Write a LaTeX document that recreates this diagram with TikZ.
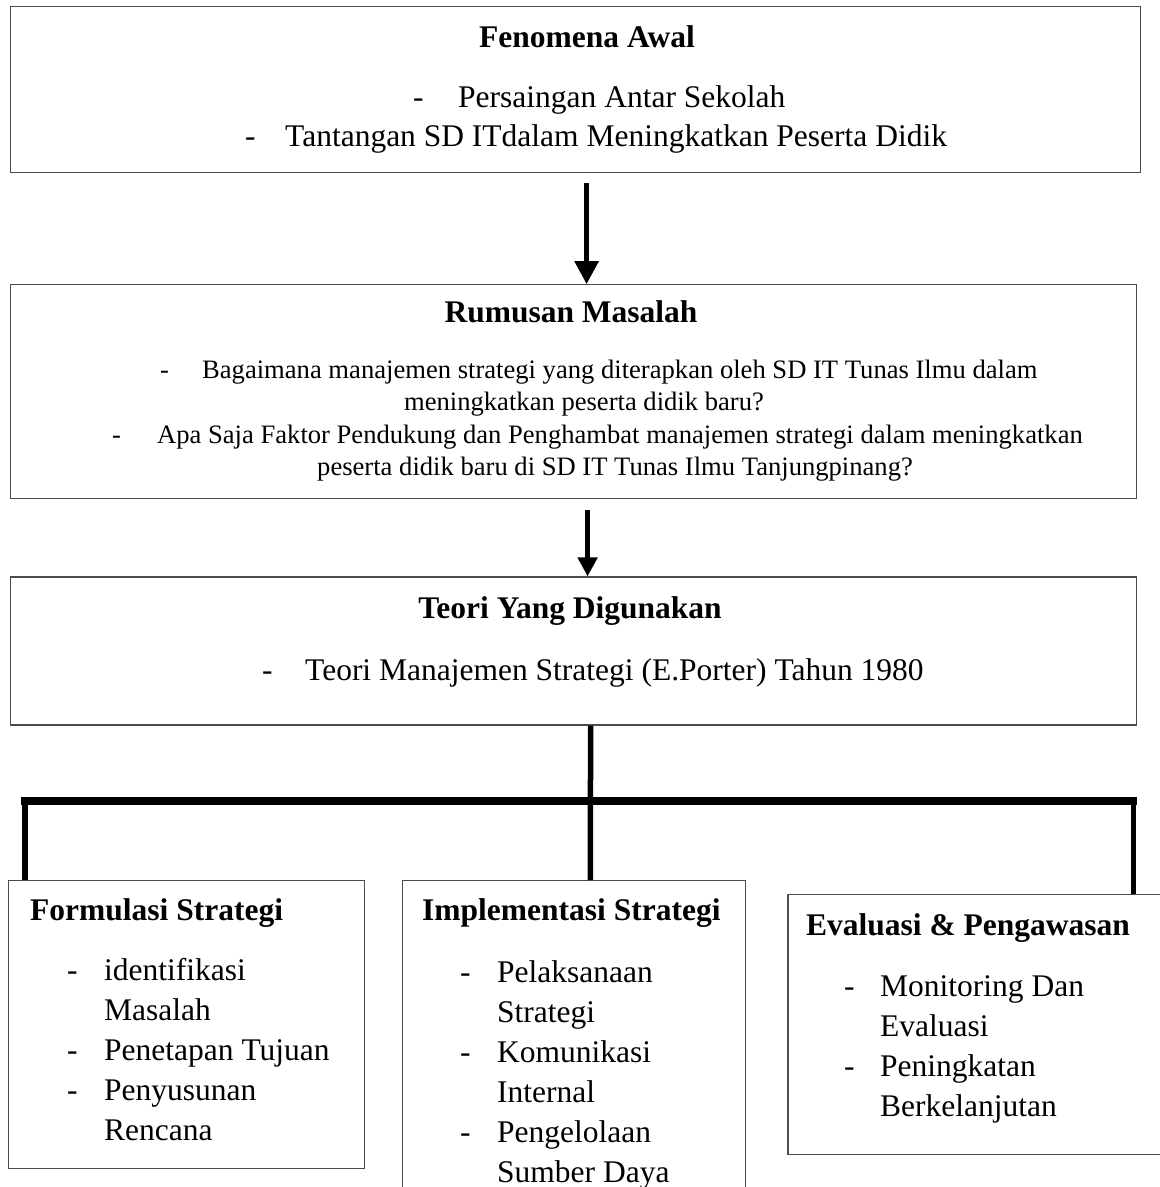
\documentclass[tikz,border=0pt]{standalone}
\usepackage{fontspec}
\setmainfont{Liberation Serif}
\usetikzlibrary{arrows.meta,positioning}

\begin{document}
\begin{tikzpicture}[x=1pt,y=-1pt,
   kotak/.style={draw=black!70, line width=1.2pt, inner sep=0pt},
   judul/.style={font=\bfseries\fontsize{31.5}{40}\selectfont, inner sep=0pt},
   isi/.style={font=\fontsize{31.5}{40}\selectfont, inner sep=0pt},
   isikecil/.style={font=\fontsize{26.6}{33}\selectfont, inner sep=0pt},
   panah/.style={-{Triangle[width=23pt,length=23pt]}, line width=5.5pt},
   panahkecil/.style={-{Triangle[width=19pt,length=19pt]}, line width=5pt},
   garis/.style={line width=5.5pt},
   palang/.style={line width=8pt}]
   \useasboundingbox (0,0) rectangle (1160,1187);

   % kotak utama
   \node [kotak, minimum width=1130pt, minimum height=166pt, anchor=north west] (fen) at (10,6) {};
   \node [kotak, minimum width=1126pt, minimum height=214pt, below=111pt of fen.south west, anchor=north west] (rum) {};
   \node [kotak, minimum width=1126pt, minimum height=148pt, below=77pt of rum.south west, anchor=north west] (teori) {};
   \node [kotak, minimum width=356pt, minimum height=288pt, anchor=north west] (form) at (8,880) {};
   \node [kotak, minimum width=343pt, minimum height=330pt, right=37pt of form.north east, anchor=north west] (impl) {};
   \node [kotak, minimum width=373pt, minimum height=260pt, right=41pt of impl.north east, anchor=north west, yshift=-14pt] (eval) {};

   % isi kotak
   \node [judul, anchor=base] (fenJ) at (587,47) {Fenomena Awal};
   \node [isi, anchor=base west] (fen1) at (413,107) {\makebox[45pt][l]{-}Persaingan Antar Sekolah};
   \node [isi, anchor=base west] (fen2) at (245,146) {\makebox[40pt][l]{-}Tantangan SD ITdalam Meningkatkan Peserta Didik};

   \node [judul, anchor=base] (rumJ) at (571,322) {Rumusan Masalah};
   \node [isikecil, anchor=base west] (rum1) at (160,378) {\makebox[42pt][l]{-}Bagaimana manajemen strategi yang diterapkan oleh SD IT Tunas Ilmu dalam};
   \node [isikecil, anchor=base] (rum1b) at (584,410) {meningkatkan peserta didik baru?};
   \node [isikecil, anchor=base west] (rum2) at (112,443) {\makebox[45pt][l]{-}Apa Saja Faktor Pendukung dan Penghambat manajemen strategi dalam meningkatkan};
   \node [isikecil, anchor=base] (rum2b) at (615,475) {peserta didik baru di SD IT Tunas Ilmu Tanjungpinang?};

   \node [judul, anchor=base] (teoriJ) at (570,618) {Teori Yang Digunakan};
   \node [isi, anchor=base west] (teori1) at (262,680) {\makebox[43pt][l]{-}Teori Manajemen Strategi (E.Porter) Tahun 1980};

   \node [judul, anchor=base west] (formJ) at (30,920) {Formulasi Strategi};
   \node [isi, anchor=base west] (formI) at (67,980) {\begin{tabular}[t]{@{}p{37pt}@{}l@{}}
      - & identifikasi\\ & Masalah\\ - & Penetapan Tujuan\\ - & Penyusunan\\ & Rencana\end{tabular}};

   \node [judul, anchor=base west] (implJ) at (422,920) {Implementasi Strategi};
   \node [isi, anchor=base west] (implI) at (460,982) {\begin{tabular}[t]{@{}p{37pt}@{}l@{}}
      - & Pelaksanaan\\ & Strategi\\ - & Komunikasi\\ & Internal\\ - & Pengelolaan\\ & Sumber Daya\end{tabular}};

   \node [judul, anchor=base west] (evalJ) at (806,935) {Evaluasi \& Pengawasan};
   \node [isi, anchor=base west] (evalI) at (844,996) {\begin{tabular}[t]{@{}p{36pt}@{}l@{}}
      - & Monitoring Dan\\ & Evaluasi\\ - & Peningkatan\\ & Berkelanjutan\end{tabular}};

   % panah dan garis
   \draw [panah, shorten <=10pt] ([xshift=11pt]fen.south) -- ([xshift=13pt]rum.north);
   \draw [panahkecil, shorten <=11pt] ([xshift=14pt]rum.south) -- ([xshift=14pt]teori.north);
   \coordinate (cab) at (589,801);
   \coordinate (kiri) at ([xshift=17pt]form.north west |- cab);
   \coordinate (kanan) at ([xshift=-28pt]eval.north east |- cab);
   \draw [palang] ([xshift=-4pt]kiri) -- ([xshift=3pt]kanan);
   \draw [garis] (kiri) -- ([xshift=17pt]form.north west);
   \draw [garis] (kanan) -- ([xshift=-28pt]eval.north east);
   \draw [garis] ([xshift=17pt]teori.south) -- ([xshift=16pt]impl.north);
\end{tikzpicture}
\end{document}
